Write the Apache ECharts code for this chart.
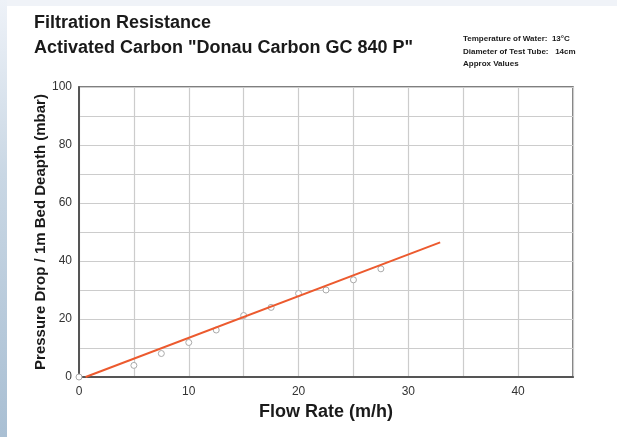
<!DOCTYPE html>
<html>
<head>
<meta charset="utf-8">
<script src="https://cdn.jsdelivr.net/npm/echarts@6/dist/echarts.min.js"></script>
<style>
html,body{margin:0;padding:0;width:617px;height:437px;overflow:hidden;background:#f0f3f8;}
#side{position:absolute;left:0;top:0;width:7px;height:437px;background:linear-gradient(#eef2f8,#c9d7e4 40%,#a9bfd3);}
#main{position:absolute;left:7px;top:6px;width:610px;height:431px;background:#fff;}
</style>
</head>
<body>
<div id="side"></div>
<div id="main"></div>
<script>
const flowRate = [0, 5, 7.5, 10, 12.5, 15, 17.5, 20, 22.5, 25, 27.5];
const pressureDrop = [0, 4.0, 8.1, 11.9, 16.2, 21.2, 24.0, 28.8, 30.0, 33.5, 37.3];
const trendX = [0.6, 32.9];
const trendY = [0, 46.4];
const xTicks = [0, 10, 20, 30, 40];
const yTicks = [0, 20, 40, 60, 80, 100];
const titleLines = ['Filtration Resistance', 'Activated Carbon "Donau Carbon GC 840 P"'];
const noteLines = ['Temperature of Water:  13°C', 'Diameter of Test Tube:   14cm', 'Approx Values'];

const chart = echarts.init(document.getElementById('main'), null, {renderer: 'canvas'});
const font = '"Liberation Sans", Arial, sans-serif';
chart.setOption({
  backgroundColor: '#fff',
  animation: false,
  textStyle: {fontFamily: font},
  graphic: [
    {type: 'text', left: 27, top: 5, style: {text: titleLines.join('\n'), font: 'bold 18px ' + font, lineHeight: 25, fill: '#1a1a1a'}},
    {type: 'text', left: 456, top: 27, style: {text: noteLines.join('\n'), font: 'bold 8px ' + font, lineHeight: 12.5, fill: '#1a1a1a'}}
  ],
  grid: {left: 72, right: 44, top: 81, bottom: 60, show: true, borderColor: '#555', borderWidth: 1.5},
  xAxis: {
    type: 'value', min: 0, max: 45, interval: 5,
    name: 'Flow Rate (m/h)', nameLocation: 'middle', nameGap: 26,
    nameTextStyle: {fontSize: 18, fontWeight: 'bold', color: '#1a1a1a', fontFamily: font},
    axisLine: {show: true, lineStyle: {color: '#555', width: 2}},
    axisTick: {show: false},
    axisLabel: {color: '#333', fontSize: 12, margin: 9, formatter: v => xTicks.includes(v) ? String(v) : ''},
    splitLine: {show: true, lineStyle: {color: '#cccccc', width: 1.2}}
  },
  yAxis: {
    type: 'value', min: 0, max: 100, interval: 10,
    name: 'Pressure Drop / 1m Bed Deapth (mbar)', nameLocation: 'middle', nameGap: 31, nameMoveOverlap: false,
    nameTextStyle: {fontSize: 15, fontWeight: 'bold', color: '#1a1a1a', fontFamily: font},
    axisLine: {show: true, lineStyle: {color: '#555', width: 2}},
    axisTick: {show: false},
    axisLabel: {color: '#333', fontSize: 12, margin: 7, formatter: v => yTicks.includes(v) ? String(v) : ''},
    splitLine: {show: true, lineStyle: {color: '#cccccc', width: 1.2}}
  },
  series: [
    {type: 'scatter', data: flowRate.map((x, i) => [x, pressureDrop[i]]), symbol: 'circle', symbolSize: 6,
      itemStyle: {color: '#ffffff', borderColor: '#aaaaaa', borderWidth: 1, opacity: 1}, z: 3},
    {type: 'line', data: trendX.map((x, i) => [x, trendY[i]]), symbol: 'none', lineStyle: {color: '#ec5a2e', width: 2}, z: 4}
  ]
});
</script>
</body>
</html>
